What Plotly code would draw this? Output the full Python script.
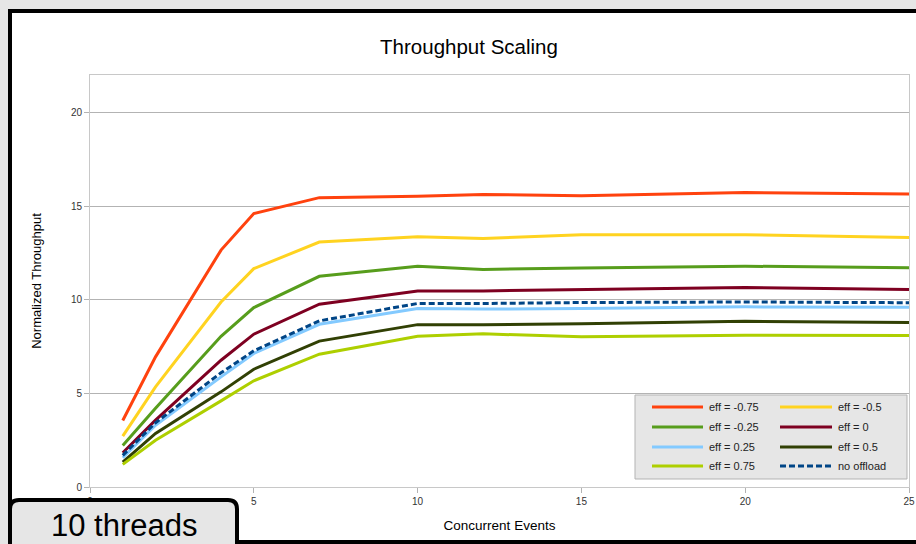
import plotly.graph_objects as go

# ---------------- data ----------------
events = [1, 2, 4, 5, 7, 10, 12, 15, 20, 25]
series_names = ["eff = -0.75", "eff = -0.5", "eff = -0.25", "eff = 0",
                "eff = 0.25", "eff = 0.5", "eff = 0.75", "no offload"]
eff_m075 = [3.55, 6.95, 12.65, 14.6, 15.45, 15.52, 15.62, 15.55, 15.72, 15.64]
eff_m050 = [2.72, 5.35, 9.88, 11.66, 13.08, 13.36, 13.27, 13.47, 13.47, 13.32]
eff_m025 = [2.21, 4.2, 8.05, 9.58, 11.25, 11.79, 11.62, 11.7, 11.79, 11.71]
eff_000 = [1.83, 3.57, 6.77, 8.16, 9.76, 10.47, 10.47, 10.54, 10.65, 10.54]
eff_p025 = [1.56, 3.3, 5.88, 7.13, 8.69, 9.53, 9.5, 9.53, 9.62, 9.6]
eff_p050 = [1.33, 2.86, 5.08, 6.29, 7.79, 8.67, 8.67, 8.72, 8.85, 8.78]
eff_p075 = [1.21, 2.5, 4.6, 5.67, 7.09, 8.05, 8.18, 8.02, 8.1, 8.09]
no_offload = [1.69, 3.43, 6.1, 7.27, 8.87, 9.8, 9.8, 9.85, 9.88, 9.84]
y_ticks = [0, 5, 10, 15, 20]
x_ticks = [0, 5, 10, 15, 20, 25]

all_series = [eff_m075, eff_m050, eff_m025, eff_000, eff_p025, eff_p050, eff_p075, no_offload]
colors = ["#ff420e", "#ffd320", "#579d1c", "#7e0021", "#83caff", "#314004", "#aecf00", "#004586"]
dashes = ["solid"] * 7 + ["6px,3px"]

# ---------------- geometry helpers ----------------
W, H = 916, 544
L, R, T, B = 90, 7, 75, 57
PW, PH = W - L - R, H - T - B
FONT = "Liberation Sans, Arial, sans-serif"


def px(x):
    return (x - L) / PW


def py(y):
    return (H - B - y) / PH


fig = go.Figure()
for name, vals, col, dsh in zip(series_names, all_series, colors, dashes):
    fig.add_trace(go.Scatter(x=events, y=vals, mode="lines", name=name,
                             line=dict(color=col, width=3, dash=dsh),
                             showlegend=False))

shapes = []
# slide frame
shapes.append(dict(type="rect", xref="paper", yref="paper",
                   x0=px(10), x1=px(935), y0=py(11), y1=py(542),
                   line=dict(color="black", width=4), fillcolor="white", layer="below"))
# legend box
shapes.append(dict(type="rect", xref="paper", yref="paper",
                   x0=px(635), x1=px(907), y0=py(395), y1=py(479),
                   line=dict(color="#b3b3b3", width=1), fillcolor="#e6e6e6", layer="above"))

annotations = []
rows = [407, 427, 447, 466]
cols = [(652, 703, 707), (780, 832, 836)]
for i, (name, col, dsh) in enumerate(zip(series_names, colors, dashes)):
    c = cols[i % 2]
    r = rows[i // 2]
    shapes.append(dict(type="line", xref="paper", yref="paper",
                       x0=px(c[0]), x1=px(c[1]), y0=py(r), y1=py(r),
                       line=dict(color=col, width=3, dash=dsh), layer="above"))
    annotations.append(dict(text=name, xref="paper", yref="paper",
                            x=px(c[2]), y=py(r), xanchor="left", yanchor="middle",
                            showarrow=False, font=dict(family=FONT, size=11, color="#222222")))

# "10 threads" tab with rounded top corners
tx0, tx1, ty0, tyb, rr = 10, 237, 500, 560, 9
path = (f"M {px(tx0)},{py(tyb)} L {px(tx0)},{py(ty0 + rr)} "
        f"Q {px(tx0)},{py(ty0)} {px(tx0 + rr)},{py(ty0)} "
        f"L {px(tx1 - rr)},{py(ty0)} Q {px(tx1)},{py(ty0)} {px(tx1)},{py(ty0 + rr)} "
        f"L {px(tx1)},{py(tyb)} Z")
shapes.append(dict(type="path", xref="paper", yref="paper", path=path,
                   line=dict(color="black", width=4), fillcolor="#e6e6e6", layer="above"))
annotations.append(dict(text="10 threads", xref="paper", yref="paper",
                        x=px(124), y=py(525), xanchor="center", yanchor="middle",
                        showarrow=False, font=dict(family=FONT, size=31, color="black")))

fig.update_layout(
    width=W, height=H,
    margin=dict(l=L, r=R, t=T, b=B, pad=0, autoexpand=False),
    paper_bgcolor="#e6e6e6",
    plot_bgcolor="white",
    title=dict(text="Throughput Scaling", x=469 / W, xref="container", xanchor="center",
               y=1 - 47 / H, yref="container", yanchor="middle",
               font=dict(family=FONT, size=20.5, color="black")),
    font=dict(family=FONT, color="#333333"),
    shapes=shapes,
    annotations=annotations,
    xaxis=dict(range=[0, 25], tickvals=x_ticks, showgrid=False, zeroline=False,
               automargin=False,
               showline=True, linecolor="#c8c8c8", linewidth=1, mirror=True,
               ticks="outside", ticklen=5, tickcolor="#b3b3b3",
               tickfont=dict(family=FONT, size=10, color="#333333"),
               title=dict(text="Concurrent Events", standoff=14,
                          font=dict(family=FONT, size=13.5, color="black"))),
    yaxis=dict(range=[0, 22], tickvals=y_ticks, showgrid=True, gridcolor="#b3b3b3",
               zeroline=False, automargin=False,
               showline=True, linecolor="#c8c8c8", linewidth=1, mirror=True,
               ticks="outside", ticklen=5, tickcolor="#b3b3b3",
               tickfont=dict(family=FONT, size=10, color="#333333"),
               title=dict(text="Normalized Throughput", standoff=26,
                          font=dict(family=FONT, size=13, color="black"))),
)

fig.write_html("out.html", config={"displayModeBar": False},
               post_script="document.body.style.margin='0';document.body.style.overflow='hidden';")
